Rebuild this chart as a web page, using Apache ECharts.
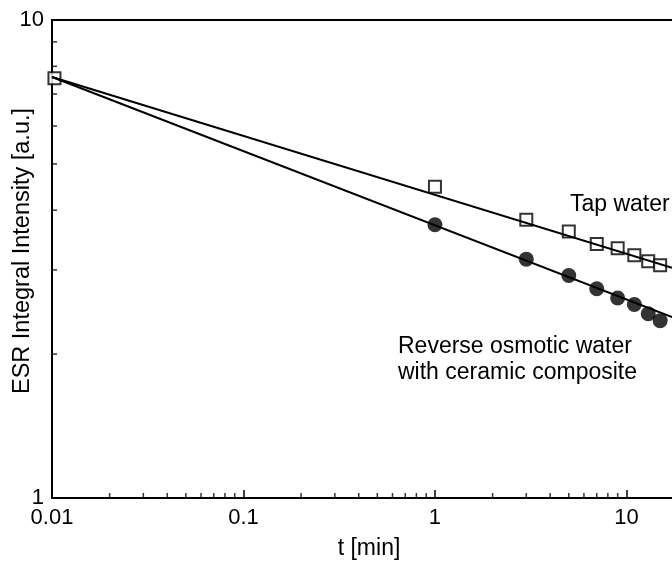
<!DOCTYPE html>
<html>
<head>
<meta charset="utf-8">
<script src="https://cdn.jsdelivr.net/npm/echarts@6/dist/echarts.min.js"></script>
<style>
  html, body { margin: 0; padding: 0; background: #fff; }
  #chart { width: 672px; height: 562px; }
</style>
</head>
<body>
<div id="chart"></div>
<script>
// measured points
const tapTime = [0.0103, 1, 3, 5, 7, 9, 11, 13, 15]
const tapValue = [7.55, 4.48, 3.82, 3.61, 3.40, 3.33, 3.22, 3.13, 3.07]
const roTime = [1, 3, 5, 7, 9, 11, 13, 15]
const roValue = [3.73, 3.16, 2.92, 2.74, 2.62, 2.54, 2.43, 2.35]

// fitted lines, read as end points at the picture edges
const tapFit = [[0.01, 7.6], [17.3, 3.03]]
const roFit = [[0.01, 7.6], [17.3, 2.39]]

// minor tick positions
const xMinorTicks = [0.02, 0.03, 0.04, 0.05, 0.06, 0.07, 0.08, 0.09,
  0.2, 0.3, 0.4, 0.5, 0.6, 0.7, 0.8, 0.9,
  2, 3, 4, 5, 6, 7, 8, 9]
const yMinorTicks = [2, 3, 4, 5, 6, 7, 8, 9]

const font = 'Liberation Sans, Arial, sans-serif'
const xMax = 17.3   // picture is cut at the right edge
const c = echarts.init(document.getElementById('chart'))

c.setOption({
  animation: false,
  grid: { left: 52, top: 20, bottom: 64, right: 0 },
  xAxis: [{
    type: 'log', min: 0.01, max: xMax, logBase: 10,
    axisLine: { lineStyle: { color: '#000', width: 2 } },
    axisTick: { inside: true, length: 8, lineStyle: { color: '#000', width: 1.5 } },
    axisLabel: { color: '#000', fontSize: 22, fontFamily: font, margin: 9, showMaxLabel: false },
    splitLine: { show: false }
  }, {
    type: 'log', min: 0.01, max: xMax, logBase: 10, position: 'top',
    axisLine: { lineStyle: { color: '#000', width: 2 } },
    axisTick: { show: false }, axisLabel: { show: false }, splitLine: { show: false }
  }],
  yAxis: {
    type: 'log', min: 1, max: 10, logBase: 10,
    axisLine: { lineStyle: { color: '#000', width: 2 } },
    axisTick: { inside: true, length: 8, lineStyle: { color: '#000', width: 1.5 } },
    axisLabel: { color: '#000', fontSize: 22, fontFamily: font, margin: 8 },
    splitLine: { show: false }
  },
  graphic: [
    { type: 'text', x: 369, y: 549, style: { text: 't [min]', font: '23px ' + font, fill: '#000', align: 'center', verticalAlign: 'middle' } },
    { type: 'text', x: 23, y: 251, rotation: Math.PI / 2, style: { text: 'ESR Integral Intensity [a.u.]', font: '23.5px ' + font, fill: '#000', align: 'center', verticalAlign: 'middle' } },
    { type: 'text', x: 570, y: 205, style: { text: 'Tap water', font: '23px ' + font, fill: '#000', align: 'left', verticalAlign: 'middle' } },
    { type: 'text', x: 398, y: 360, style: { text: 'Reverse osmotic water\nwith ceramic composite', font: '23px ' + font, lineHeight: 26, fill: '#000', align: 'left', verticalAlign: 'middle' } }
  ],
  series: [
    { type: 'line', data: tapFit, symbol: 'none', lineStyle: { color: '#000', width: 2 } },
    { type: 'line', data: roFit, symbol: 'none', lineStyle: { color: '#000', width: 2 } },
    {
      type: 'scatter', data: tapTime.map((t, i) => [t, tapValue[i]]), symbol: 'rect', symbolSize: 12, clip: false,
      itemStyle: { color: '#fff', borderColor: '#000', borderWidth: 2 }
    },
    {
      type: 'scatter', data: roTime.map((t, i) => [t, roValue[i]]), symbol: 'circle', symbolSize: 15,
      itemStyle: { color: '#000' }
    },
    {
      type: 'scatter', data: xMinorTicks.map(t => [t, 1]), symbol: 'rect', symbolSize: [1.5, 5], symbolOffset: [0, -2.5], clip: false,
      itemStyle: { color: '#000' }, silent: true
    },
    {
      type: 'scatter', data: yMinorTicks.map(v => [0.01, v]), symbol: 'rect', symbolSize: [5, 1.5], symbolOffset: [2.5, 0], clip: false,
      itemStyle: { color: '#000' }, silent: true
    }
  ]
})
</script>
</body>
</html>
